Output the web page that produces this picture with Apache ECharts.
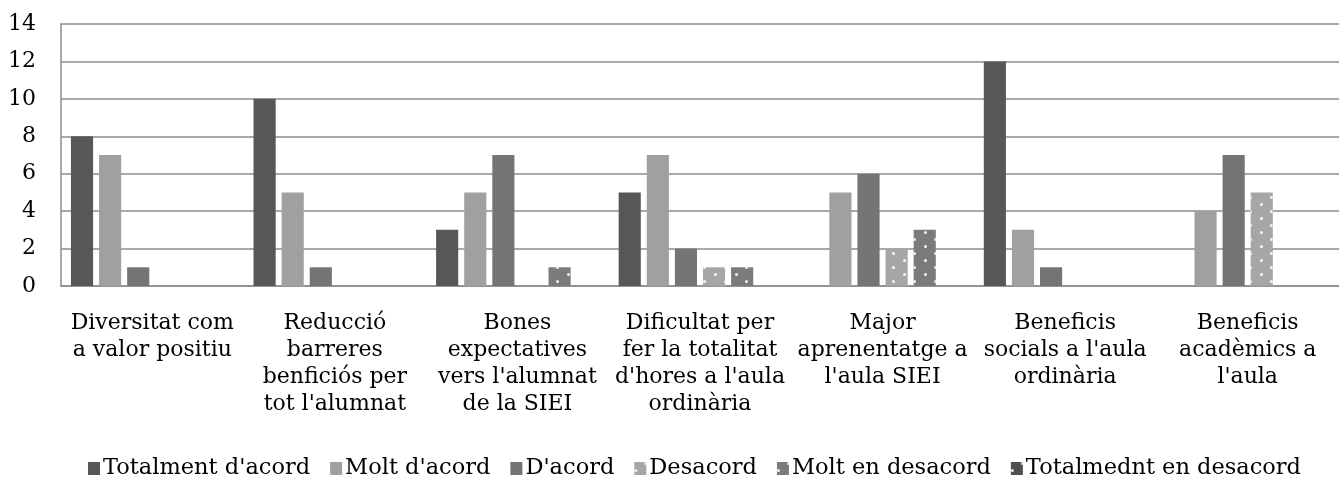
<!DOCTYPE html>
<html>
<head>
<meta charset="utf-8">
<script src="https://cdn.jsdelivr.net/npm/echarts@6/dist/echarts.min.js"></script>
<style>
html,body{margin:0;padding:0;background:#fff;}
#chart{width:1339px;height:479px;}
</style>
</head>
<body>
<div id="chart"></div>
<script>
var categories = [
  "Diversitat com\na valor positiu",
  "Reducció\nbarreres\nbenficiós per\ntot l'alumnat",
  "Bones\nexpectatives\nvers l'alumnat\nde la SIEI",
  "Dificultat per\nfer la totalitat\nd'hores a l'aula\nordinària",
  "Major\naprenentatge a\nl'aula SIEI",
  "Beneficis\nsocials a l'aula\nordinària",
  "Beneficis\nacadèmics a\nl'aula"
];
var seriesNames = ["Totalment d'acord", "Molt d'acord", "D'acord", "Desacord", "Molt en desacord", "Totalmednt en desacord"];
var totalmentAcord = [8, 10, 3, 5, 0, 12, 0];
var moltAcord = [7, 5, 5, 7, 5, 3, 4];
var dAcord = [1, 1, 7, 2, 6, 1, 7];
var desacord = [0, 0, 0, 1, 2, 0, 5];
var moltDesacord = [0, 0, 1, 1, 3, 0, 0];
var totalmentDesacord = [0, 0, 0, 0, 0, 0, 0];
var yTicks = [0, 2, 4, 6, 8, 10, 12, 14];

var FONT = "'DejaVu Serif', serif";
var colors = ['#575757', '#a0a0a0', '#747474', '#a6a6a6', '#7b7b7b', '#4f4f4f'];
var dotDecal = {
  symbol: 'circle',
  symbolSize: 1,
  color: 'rgba(255,255,255,0.9)',
  dashArrayX: [[2.2, 17.8], [0, 10, 2.2, 7.8]],
  dashArrayY: [2.2, 3.15],
  rotation: 0
};
var allData = [totalmentAcord, moltAcord, dAcord, desacord, moltDesacord, totalmentDesacord];
var series = allData.map(function (d, i) {
  var s = {
    name: seriesNames[i],
    type: 'bar',
    data: d,
    barGap: '27%',
    barCategoryGap: '10.9%',
    itemStyle: { color: colors[i] },
    emphasis: { disabled: true },
    animation: false
  };
  if (i >= 3) s.itemStyle.decal = dotDecal;
  return s;
});

var chart = echarts.init(document.getElementById('chart'), null, { renderer: 'canvas' });
chart.setOption({
  animation: false,
  backgroundColor: '#ffffff',
  color: colors,
  grid: { left: 61, right: -9, top: 24, bottom: 193, containLabel: false },
  xAxis: {
    type: 'category',
    data: categories,
    axisLine: { show: true, lineStyle: { color: '#8c8c8c', width: 1.5 } },
    axisTick: { show: false },
    axisLabel: {
      interval: 0,
      margin: 24,
      fontFamily: FONT,
      fontSize: 22,
      lineHeight: 27,
      color: '#000',
      align: 'center'
    }
  },
  yAxis: {
    type: 'value',
    min: yTicks[0],
    max: yTicks[yTicks.length - 1],
    interval: 2,
    axisLine: { show: true, lineStyle: { color: '#8c8c8c', width: 1.5 } },
    axisTick: { show: false },
    splitLine: { show: true, lineStyle: { color: '#8c8c8c', width: 1.5 } },
    axisLabel: {
      margin: 25,
      fontFamily: FONT,
      fontSize: 22,
      color: '#000'
    }
  },
  legend: {
    data: seriesNames,
    left: 88,
    top: 457,
    padding: 0,
    itemWidth: 12,
    itemHeight: 13,
    itemGap: 20,
    icon: 'rect',
    textStyle: { fontFamily: FONT, fontSize: 22.5, color: '#000', padding: [0, 0, 0, -2] },
    selectedMode: false
  },
  series: series
});
</script>
</body>
</html>
